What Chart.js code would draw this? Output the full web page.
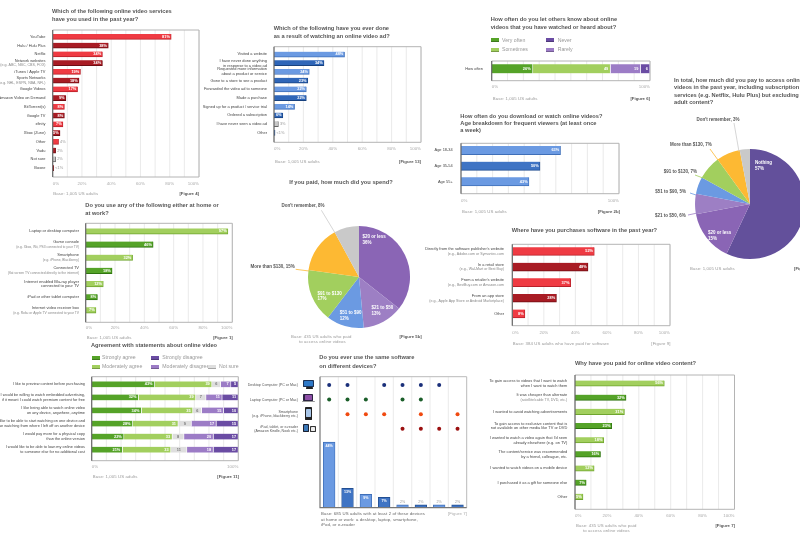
<!DOCTYPE html>
<html><head><meta charset="utf-8">
<script src="https://cdn.jsdelivr.net/npm/chart.js@4"></script>
<style>
html,body{margin:0;padding:0;background:#fff;width:800px;height:533px;overflow:hidden;font-family:"Liberation Sans",Arial,sans-serif}
canvas{position:absolute}
.t{position:absolute;white-space:pre;line-height:1;transform:translateZ(0)}
.title{font-size:5.7px;font-weight:700;color:#555}
.cap{font-size:4.3px;color:#999;letter-spacing:.1px}
.fig{font-size:4.3px;color:#555;font-weight:700}
.lg{font-size:5.2px;color:#999}
.sw{position:absolute;height:4px;width:8px;border-bottom:.6px solid rgba(0,0,0,.25);box-sizing:border-box}
.ic{position:absolute;border-radius:.4px}
</style></head><body>
<script>
// ---------- data ----------
const servicesLabels=["YouTube","Hulu / Hulu Plus","Netflix",["Network websites","(e.g. ABC, NBC, CBS, FOX)"],"iTunes / Apple TV",["Sports Networks","(e.g. NHL, ESPN, NBA, NFL)"],"Google Videos","Amazon Video on Demand","BitTorrent(s)","Google TV","xfinity","Xbox (Zune)","Other","Vudu","Not sure","Boxee"];
const servicesValues=[81,38,34,34,19,18,17,9,8,8,7,5,4,2,2,0.7];
const servicesText=["81%","38%","34%","34%","19%","18%","17%","9%","8%","8%","7%","5%","4%","2%","2%","<1%"];

const adLabels=["Visited a website",["I have never done anything","in response to a video ad"],["Requested more information","about a product or service"],"Gone to a store to see a product","Forwarded the video ad to someone","Made a purchase","Signed up for a product / service trial","Ordered a subscription","I have never seen a video ad","Other"];
const adValues=[48,34,24,23,22,22,14,6,3,0.7];
const adText=["48%","34%","24%","23%","22%","22%","14%","6%","3%","<1%"];

const shareLabels=["How often"];
const shareVeryOften=[26],shareSometimes=[49],shareRarely=[19],shareNever=[6];

const ageLabels=["Age 18-34","Age 35-54","Age 55+"];
const ageValues=[63,50,43];

const deviceLabels=["Laptop or desktop computer",["Game console","(e.g. Xbox, Wii, PS3 connected to your TV)"],["Smartphone","(e.g. iPhone, Blackberry)"],["Connected TV","(flat screen TV connected directly to the internet)"],["Internet enabled Blu-ray player","connected to your TV"],"iPad or other tablet computer",["Internet video receiver box","(e.g. Roku or Apple TV connected to your TV"]];
const deviceValues=[97,46,32,18,12,8,7];

const agreeLabels=["I like to preview content before purchasing",["I would be willing to watch embedded advertising,","if it meant I could watch premium content for free"],["I like being able to watch online video","on any device, anywhere, anytime"],["I like to be able to start watching on one device and","continue watching from where I left off on another device"],["I would pay more for a physical copy","than the online version"],["I would like to be able to loan my online videos","to someone else for no additional cost"]];
const stronglyAgree=[43,32,34,28,22,21];
const moderatelyAgree=[39,39,35,31,33,33];
const notSure=[6,7,6,9,8,11];
const moderatelyDisagree=[7,11,15,17,20,18];
const stronglyDisagree=[5,11,10,15,17,17];

const softwareLabels=[["Directly from the software publisher's website","(e.g., Adobe.com or Symantec.com"],["In a retail store","(e.g., Wal-Mart or Best Buy)"],["From a retailer's website","(e.g., BestBuy.com or Amazon.com"],["From an app store","(e.g., Apple App Store or Android Marketplace)"],"Other"];
const softwareValues=[52,48,37,28,8];

const whyLabels=[["To gain access to videos that I want to watch","when I want to watch them"],["It was cheaper than alternate","(satellite/cable TV, DVD, etc.)"],"I wanted to avoid watching advertisements",["To gain access to exclusive content that is","not available on other media like TV or DVD"],["I wanted to watch a video again that I'd seen","already elsewhere (e.g. on TV)"],["The content/service was recommended","by a friend, colleague, etc."],"I wanted to watch videos on a mobile device","I purchased it as a gift for someone else","Other"];
const whyValues=[56,32,31,23,18,16,12,7,5];

const spendLabels=["$20 or less","$21 to $50","$51 to $90","$91 to $130","More than $130","Don't remember"];
const spendValues=[36,13,12,17,15,8];
const payLabels=["Nothing","$20 or less","$21 to $50","$51 to $90","$91 to $130","More than $130","Don't remember"];
const payValues=[57,15,6,5,7,7,3];

const comboColumns=["c1","c2","c3","c4","c5","c6","c7","c8"];
const comboShare=[44,13,9,7,2,2,2,2];
const comboRows=[["Desktop Computer (PC or Mac)"],["Laptop Computer (PC or Mac)"],["Smartphone","(e.g. iPhone, blackberry etc.)"],["iPad, tablet, or e-reader","(Amazon Kindle, Nook etc.)"]];
const comboDesktop=["c1","c2","c4","c5","c6","c7"];
const comboLaptop=["c1","c2","c3","c5","c6"];
const comboPhone=["c2","c3","c4","c6","c8"];
const comboTablet=["c5","c6","c7","c8"];

// ---------- palette ----------
const RED=["#ef3b43","#a81c24"],BLUE=["#6b9ae2","#2f66b8"],BLUE2=["#6b9ae2","#3f74c4"],GREEN=["#a2cf5e","#55a328"];
const C={so:"#55a328",mo:"#a2cf5e",sd:"#6a4ca3",md:"#9c7cc6",ns:"#dedede"};
const GREY="#c8c8c8";
function shade(c){return {"#ef3b43":"#b92029","#a81c24":"#6f0d13","#6b9ae2":"#3f6fb8","#2f66b8":"#17417f","#3f74c4":"#224f92","#a2cf5e":"#6fa52f","#55a328":"#2f7410",[GREY]:"#666"}[c]||c;}

// ---------- helpers ----------
function text(s,x,y,cls,extra){const d=document.createElement('div');d.className='t '+cls;d.textContent=s;d.style.left=x+'px';d.style.top=y+'px';if(extra)Object.assign(d.style,extra);document.body.appendChild(d);return d;}
function title(lines,x,ys){lines.forEach((l,i)=>text(l,x,ys[i]-3,'title'));}
function cap(s,x,y){text(s,x,y-2.2,'cap');}
function figR(s,r,y){text(s,0,y-2.2,'fig',{left:'auto',right:(800-r)+'px'});}
function swatch(x,y,c){const d=document.createElement('div');d.className='sw';d.style.left=x+'px';d.style.top=y+'px';d.style.background=c;document.body.appendChild(d);}
function legendText(s,x,y){text(s,x,y-2.6,'lg');}
function mk(x,y,w,h){const c=document.createElement('canvas');c.width=w;c.height=h;c.style.left=x+'px';c.style.top=y+'px';c.style.width=w+'px';c.style.height=h+'px';document.body.appendChild(c);return c;}

const framePlugin={id:'frame',
 beforeDatasetsDraw(ch,a,o){
  if(!o.rect)return;const g=ch.ctx,r=o.rect,x=ch.scales.x;g.save();
  g.strokeStyle='#e4e4e4';g.lineWidth=.8;
  x.ticks.forEach(t=>{const p=x.getPixelForValue(t.value);g.beginPath();g.moveTo(p,r.t);g.lineTo(p,r.b);g.stroke();});
  g.strokeStyle='#b4b4b4';g.lineWidth=1;g.beginPath();g.moveTo(r.l,r.t);g.lineTo(r.r,r.t);g.lineTo(r.r,r.b);g.lineTo(r.l,r.b);g.stroke();
  g.restore();},
 afterDatasetsDraw(ch,a,o){
  if(!o.rect)return;const g=ch.ctx,r=o.rect;g.save();g.strokeStyle='#666';g.lineWidth=1.2;g.beginPath();g.moveTo(r.l,r.t);g.lineTo(r.l,r.b);g.stroke();g.restore();}
};
const valuePlugin={id:'vals',
 afterDatasetsDraw(ch,a,o){
  if(!o.text)return;const g=ch.ctx;g.save();g.textBaseline='middle';
  o.text.forEach((arr,di)=>{ if(!arr)return; const m=ch.getDatasetMeta(di);
   arr.forEach((s,i)=>{ if(s==null)return;const b=m.data[i];const ins=o.inside(ch.data.datasets[di].data[i],di);
    g.font=(ins?'bold ':'')+(o.size||3.9)+'px "Liberation Sans"';
    g.fillStyle=ins?'#fff':'#999';
    if(o.vertical){g.textAlign='center';
      if(ins)g.fillText(s,b.x,b.y+4);else g.fillText(s,b.x,b.y-3.2);}
    else if(o.center){
      if(di===o.nsIndex){g.textAlign='center';g.fillStyle='#777';g.fillText(s,(b.x+b.base)/2,b.y);}
      else{g.textAlign='right';g.fillStyle='#fff';g.fillText(s,b.x-2.2,b.y);}}
    else if(ins){g.textAlign='right';g.fillText(s,b.x-1.3,b.y);}
    else{g.textAlign='left';g.fillText(s,b.x+1.5,b.y);}
   });});
  g.restore();}
};
// smaller, paler second line for bracketed examples under a category name
const subLinePlugin={id:'subs',
 afterDatasetsDraw(ch,a,o){
  if(!o.size)return;const g=ch.ctx,y=ch.scales.y;g.save();
  g.font=o.size+'px "Liberation Sans"';g.fillStyle='#888';g.textAlign='right';g.textBaseline='middle';
  ch.data.labels.forEach((l,i)=>{if(Array.isArray(l)&&l[1][0]==='(')g.fillText(l[1],y.right-o.pad,y.getPixelForTick(i)+2.4);});
  g.restore();}
};
const hidePct=(step)=>function(v){return v%step===0?v+'%':'';};

function hbar(cfg){
 // cfg.frame = plot frame, cfg.band = [top,bottom] of category bands, cfg.tickY = label y
 const f=cfg.frame,cl=cfg.left,ct=Math.floor(f.t)-2,cw=Math.ceil(f.r)+8-cl,ch=Math.ceil(cfg.tickY+6)-ct;
 const cv=mk(cl,ct,cw,ch);
 const datasets=cfg.datasets||[{data:cfg.values,
   backgroundColor:cfg.values.map((v,i)=>cfg.colors?cfg.colors[i]:cfg.palette[i%cfg.palette.length]),
   borderColor:cfg.values.map((v,i)=>shade(cfg.colors?cfg.colors[i]:cfg.palette[i%cfg.palette.length])),
   borderWidth:{top:0,left:0,right:.8,bottom:1},borderSkipped:false,barThickness:cfg.bar}];
 return new Chart(cv,{type:'bar',
  data:{labels:cfg.labels,datasets},
  plugins:[framePlugin,valuePlugin,subLinePlugin],
  options:{responsive:false,maintainAspectRatio:false,animation:false,indexAxis:'y',devicePixelRatio:1,
   layout:{padding:{top:cfg.band[0]-ct,right:cl+cw-f.r,left:0,bottom:0}},
   plugins:{legend:{display:false},tooltip:{enabled:false},
    frame:{rect:{l:f.l-cl,r:f.r-cl,t:f.t-ct,b:f.b-ct}},
    subs:{size:cfg.subFont,pad:f.l-cfg.labelR},
    vals:{text:cfg.text,inside:cfg.inside||((v)=>v>=5),center:cfg.stack,size:cfg.valSize,nsIndex:cfg.nsIndex}},
   scales:{
    x:{stacked:!!cfg.stack,min:0,max:100,position:'bottom',
      grid:{display:false,drawTicks:false},border:{display:false},
      afterFit(s){s.height=ch-(cfg.band[1]-ct);s.paddingLeft=0;s.paddingRight=0;},
      afterBuildTicks(s){s.ticks=[];for(let v=0;v<=100;v+=10)s.ticks.push({value:v});},
      ticks:{autoSkip:false,maxRotation:0,color:'#aaa',font:{size:4.4,family:'"Liberation Sans"'},align:'inner',
        padding:cfg.tickY-cfg.band[1]-2.2,callback:hidePct(cfg.major||100)}},
    y:{stacked:!!cfg.stack,grid:{display:false,drawTicks:false},border:{display:false},
      afterFit(s){s.width=f.l-cl;s.paddingTop=0;s.paddingBottom=0;},
      ticks:{autoSkip:false,padding:f.l-cfg.labelR,color:'#444',font:{size:cfg.font||3.95,family:'"Liberation Sans"',lineHeight:1.2},crossAlign:'near',
        callback(v,i){const l=cfg.labels[i];return (cfg.subFont&&Array.isArray(l)&&l[1][0]==='(')?[l[0],' ']:l;}}}
   }}});
}

// ---------- Figure 4 ----------
title(["Which of the following online video services","have you used in the past year?"],52,[12,19.5]);
hbar({left:0,frame:{l:52.7,t:30,r:199,b:177},band:[32.3,172.3],tickY:183,labelR:45.5,subFont:3.6,
 labels:servicesLabels,values:servicesValues,bar:5.4,major:20,
 colors:servicesValues.map((v,i)=>i==14?GREY:RED[i%2]),
 text:[servicesText],inside:v=>v>=5});
cap("Base: 1,005 US adults",53.3,194);figR("[Figure 4]",199,194);

// ---------- Figure 13 ----------
title(["Which of the following have you ever done","as a result of watching an online video ad?"],273.7,[29,36.7]);
hbar({left:200,frame:{l:274,t:46.7,r:421,b:142.3},band:[50,137.1],tickY:148.3,labelR:267,
 labels:adLabels,values:adValues,bar:5.4,major:20,
 colors:adValues.map((v,i)=>i==8?GREY:BLUE[i%2]),text:[adText],inside:v=>v>=5});
cap("Base: 1,005 US adults",275,161.7);figR("[Figure 13]",421,161.7);

// ---------- Figure 6 ----------
title(["How often do you let others know about online","videos that you have watched or heard about?"],490.7,[20,27.7]);
[[491,38.3,C.so,"Very often",502],[491,48,C.mo,"Sometimes",502],[546,38.3,C.sd,"Never",557.7],[546,48,C.md,"Rarely",557.7]].forEach(a=>{swatch(a[0],a[1],a[2]);legendText(a[3],a[4],a[1]+2);});
hbar({left:440,frame:{l:491.7,t:61,r:650,b:80.7},band:[61,76.6],tickY:86.7,labelR:483,labels:shareLabels,stack:true,major:100,
 datasets:[[shareVeryOften,C.so],[shareSometimes,C.mo],[shareRarely,C.md],[shareNever,C.sd]].map(a=>({data:a[0],backgroundColor:a[1],borderColor:'#fff',borderWidth:{right:.8},borderSkipped:false,barThickness:9})),
 text:[["26%"],["49"],["19"],["6"]],inside:()=>true});
cap("Base: 1,005 US adults",492.7,98.7);figR("[Figure 6]",650,98.7);

// ---------- Figure 2b ----------
title(["How often do you download or watch online videos?","Age breakdown for frequent viewers (at least once","a week)"],460.3,[116.7,124,131.3]);
hbar({left:425,frame:{l:461,t:143.3,r:619,b:193.7},band:[142.5,189.5],tickY:200,labelR:452.7,labels:ageLabels,values:ageValues,bar:8.7,major:100,
 palette:BLUE2,text:[["63%","50%","43%"]]});
cap("Base: 1,005 US adults",462,212);figR("[Figure 2b]",620,212);

// ---------- Figure 1 ----------
title(["Do you use any of the following either at home or","at work?"],85.3,[206,213.5]);
hbar({left:0,frame:{l:85.7,t:223.3,r:232.3,b:322.3},band:[224.7,316.8],tickY:327.3,labelR:79,labels:deviceLabels,values:deviceValues,bar:5.8,major:20,
 palette:GREEN,font:4,subFont:3.3,text:[deviceValues.map(v=>v+'%')]});
cap("Base: 1,005 US adults",86.7,337.7);figR("[Figure 1]",232.7,337.7);

// ---------- Figure 11 ----------
title(["Agreement with statements about online video"],91,[345.7]);
[[91.7,355.7,C.so,"Strongly agree",102],[91.7,364.7,C.mo,"Moderately agree",102],[151,355.7,C.sd,"Strongly disagree",162.3],[151,364.7,C.md,"Moderately disagree",162.3],[208.3,364.7,C.ns,"Not sure",219]].forEach(a=>{swatch(a[0],a[1],a[2]);legendText(a[3],a[4],a[1]+2);});
hbar({left:0,frame:{l:91.7,t:376.7,r:238.3,b:460.7},band:[377.8,456.2],tickY:466.7,labelR:85,labels:agreeLabels,stack:true,major:100,font:3.85,nsIndex:2,
 datasets:[[stronglyAgree,C.so],[moderatelyAgree,C.mo],[notSure,C.ns],[moderatelyDisagree,C.md],[stronglyDisagree,C.sd]].map(a=>({data:a[0],backgroundColor:a[1],borderColor:'#fff',borderWidth:{right:.8},borderSkipped:false,barThickness:5.8})),
 text:[stronglyAgree.map(v=>v+'%'),moderatelyAgree.map(String),notSure.map(String),moderatelyDisagree.map(String),stronglyDisagree.map(String)],inside:()=>true});
cap("Base: 1,005 US adults",92.7,477);figR("[Figure 11]",239,477);

// ---------- Figure 9 ----------
title(["Where have you purchases software in the past year?"],511.7,[231]);
hbar({left:400,frame:{l:512.3,t:244.3,r:670,b:325.7},band:[243.5,321.5],tickY:332.3,labelR:504,labels:softwareLabels,values:softwareValues,bar:8.3,major:20,
 palette:RED,subFont:3.6,text:[softwareValues.map(v=>v+'%')]});
cap("Base: 384 US adults who have paid for software",512.7,343.7);
text("[Figure 9]",0,341.8,'cap',{left:'auto',right:(800-670.5)+'px'});

// ---------- Figure 10 ----------
title(["Why have you paid for online video content?"],575,[364]);
hbar({left:470,frame:{l:575,t:375,r:734.5,b:509.3},band:[376.3,503.8],tickY:515,labelR:567.3,labels:whyLabels,values:whyValues,bar:5.8,major:20,
 palette:GREEN,subFont:3.6,text:[whyValues.map(v=>v+'%')],inside:()=>true});
cap("Base: 435 US adults who paid",576,526);cap("to access online videos",583,531);figR("[Figure 7]",735,526);

// ---------- Pies ----------
const PIE2=["#8a65b5","#9d7fc4","#6b9ae2","#a2cf5e","#fdb933","#c9c9c9"];
const PIE1=["#63509b","#8a65b5","#9d7fc4","#6b9ae2","#a2cf5e","#fdb933","#c9c9c9"];
const pieLabels={id:'pieLabels',afterDatasetsDraw(ch,a,o){
 const g=ch.ctx,ox=o.ox,oy=o.oy;g.save();g.textBaseline='middle';g.font='bold 4.5px "Liberation Sans"';
 (o.inside||[]).forEach(l=>{g.fillStyle='#fff';g.textAlign='left';l.t.forEach((s,i)=>g.fillText(s,l.x-ox,l.y-oy+i*5.7));});
 (o.outside||[]).forEach(l=>{g.strokeStyle=l.c;g.lineWidth=.8;g.beginPath();g.moveTo(l.a[0]-ox,l.a[1]-oy);g.lineTo(l.b[0]-ox,l.b[1]-oy);g.stroke();
   g.fillStyle='#555';g.textAlign=l.align;g.fillText(l.t,l.x-ox,l.y-oy);});
 g.restore();}};
function pie(cx,cy,r,labels,values,colors,opts){
 const pad=4,cv=mk(cx-r-pad-60,cy-r-pad-40,2*r+2*pad+60,2*r+2*pad+40);
 const ox=cx-r-pad-60,oy=cy-r-pad-40;
 new Chart(cv,{type:'pie',data:{labels,datasets:[{data:values,backgroundColor:colors,borderWidth:0}]},plugins:[pieLabels],
  options:{responsive:false,maintainAspectRatio:false,animation:false,devicePixelRatio:1,radius:r,
   layout:{padding:{left:60+pad,top:40+pad,right:pad,bottom:pad}},
   plugins:{legend:{display:false},tooltip:{enabled:false},pieLabels:Object.assign({ox,oy},opts)}}});
}
title(["If you paid, how much did you spend?"],289.3,[183]);
pie(359.3,276.7,51,spendLabels,spendValues,PIE2,{
 inside:[{t:["$20 or less","36%"],x:362.7,y:236.3},{t:["$21 to $50","13%"],x:371.7,y:307.7},{t:["$51 to $90","12%"],x:340,y:312.7},{t:["$91 to $130","17%"],x:317.7,y:293}],
 outside:[{t:"Don't remember, 8%",x:303.3,y:205.7,align:'center',a:[321.7,210],b:[335,232],c:'#ccc'},{t:"More than $130, 15%",x:295,y:266.7,align:'right',a:[296,269],b:[309.3,270.7],c:'#fdb933'}]});
cap("Base: 435 US adults who paid",291,336.7);cap("to access online videos",299,342);figR("[Figure 5b]",421.7,336.7);

title(["In total, how much did you pay to access online","videos in the past year, including subscription","services (e.g. Netflix, Hulu Plus) but excluding","adult content?"],674,[80.7,88.3,96,103.3]);
pie(750,204,55,payLabels,payValues,PIE1,{
 inside:[{t:["Nothing","57%"],x:755,y:162.7},{t:["$20 or less","15%"],x:708,y:232.7}],
 outside:[{t:"Don't remember, 3%",x:718,y:119.3,align:'center',a:[734,123],b:[739,151.7],c:'#ccc'},
  {t:"More than $130, 7%",x:711.7,y:145,align:'right',a:[710,149],b:[718,160],c:'#fdb933'},
  {t:"$91 to $130, 7%",x:697,y:171.7,align:'right',a:[695,175],b:[703,178],c:'#a2cf5e'},
  {t:"$51 to $90, 5%",x:686,y:192,align:'right',a:[690,193],b:[696,195],c:'#6b9ae2'},
  {t:"$21 to $50, 6%",x:685.7,y:215.7,align:'right',a:[688,215],b:[696,213.3],c:'#9d7fc4'}]});
cap("Base: 1,005 US adults",690,269.3);text("[Figure 5a]",794,267.1,'fig');

// ---------- Figure 7 (device combinations) ----------
title(["Do you ever use the same software","on different devices?"],319.3,[358,366.5]);
(function(){
 const cl=240,ct=372,cv=mk(cl,ct,232,140),L=320,R=466.7,T=376.7,B=507.7;
 const rowStep=14.6,rowFirst=385-T,rMin=-rowFirst/rowStep,rMax=rMin+(B-T)/rowStep;
 const dots=(cols,row,c)=>({type:'line',yAxisID:'y2',data:cols.map(x=>({x,y:row})),showLine:false,pointRadius:2,pointBackgroundColor:c,pointBorderWidth:0});
 const gridP={id:'g',beforeDatasetsDraw(ch){const g=ch.ctx,x=ch.scales.x,a=ch.chartArea;g.save();g.strokeStyle='#eee';g.lineWidth=1.2;
   for(let i=1;i<comboColumns.length;i++){const p=(x.getPixelForValue(i-1)+x.getPixelForValue(i))/2;g.beginPath();g.moveTo(p,a.top);g.lineTo(p,a.bottom);g.stroke();}
   g.strokeStyle='#bbb';g.lineWidth=1;g.beginPath();g.moveTo(a.left,a.top);g.lineTo(a.right,a.top);g.lineTo(a.right,a.bottom);g.stroke();
   g.restore();},
  afterDatasetsDraw(ch){const g=ch.ctx,a=ch.chartArea;g.save();g.strokeStyle='#777';g.lineWidth=1.2;g.beginPath();g.moveTo(a.left,a.top);g.lineTo(a.left,a.bottom);g.lineTo(a.right,a.bottom);g.stroke();g.restore();}};
 new Chart(cv,{data:{labels:comboColumns,datasets:[
   dots(comboDesktop,0,'#1a2f7a'),dots(comboLaptop,1,'#1b5e2a'),dots(comboPhone,2,'#f04a10'),dots(comboTablet,3,'#9b1010'),
   {type:'bar',yAxisID:'y',data:comboShare,backgroundColor:comboShare.map((v,i)=>BLUE2[i%2]),borderColor:comboShare.map((v,i)=>shade(BLUE2[i%2])),borderWidth:{top:1,left:.8,right:.8,bottom:0},borderSkipped:false,barThickness:11.7}
  ]},plugins:[gridP,valuePlugin],
  options:{responsive:false,maintainAspectRatio:false,animation:false,devicePixelRatio:1,
   layout:{padding:{top:T-ct,right:cl+232-R,left:0,bottom:ct+140-B}},
   plugins:{legend:{display:false},tooltip:{enabled:false},
    vals:{text:[null,null,null,null,comboShare.map(v=>v+'%')],inside:v=>v>=5,vertical:true,size:3.6}},
   scales:{
    x:{display:false,grid:{display:false}},
    y:{display:false,min:0,max:88},
    y2:{position:'left',reverse:true,min:rMin,max:rMax,grid:{display:false,drawTicks:false},border:{display:false},
      afterFit(s){s.width=L-cl;s.paddingTop=0;s.paddingBottom=0;},
      afterBuildTicks(s){s.ticks=comboRows.map((r,i)=>({value:i}));},
      ticks:{autoSkip:false,padding:22,color:'#555',font:{size:3.6,family:'"Liberation Sans"',lineHeight:1.2},callback:(v)=>comboRows[v]}}
   }}});
 // device icons
 [[302.7,379.7,11.3,7,'#1d3357'],[304,380.6,8.5,5,'#2e79c8'],[305.5,387,7,1.6,'#222'],
  [303,394,10,6.5,'#2b2440'],[304.5,395,7,4.5,'#8f4fa8'],[302,400.5,13,1,'#999'],
  [305.2,407,6.8,13,'#222'],[306,409,5.2,8,'#a9c6e8'],
  [302.7,424,6.3,8,'#1b2030'],[303.5,425.2,4.7,5.4,'#3b78b8'],[309.6,426.3,6.4,5.8,'#333'],[310.8,427.4,4,3.2,'#eee']
 ].forEach(a=>{const d=document.createElement('div');d.className='ic';d.style.left=a[0]+'px';d.style.top=a[1]+'px';d.style.width=a[2]+'px';d.style.height=a[3]+'px';d.style.background=a[4];document.body.appendChild(d);});
})();
text("Base: 685 US adults with at least 2 of these devices",321,512.3,'cap',{color:'#666'});
text("at home or work: a desktop, laptop, smartphone,",321,517.5,'cap',{color:'#666'});
text("iPod, or e-reader",321,522.7,'cap',{color:'#666'});
text("[Figure 7]",0,512.3,'cap',{left:'auto',right:(800-467)+'px',color:'#aaa'});
</script>
</body></html>
